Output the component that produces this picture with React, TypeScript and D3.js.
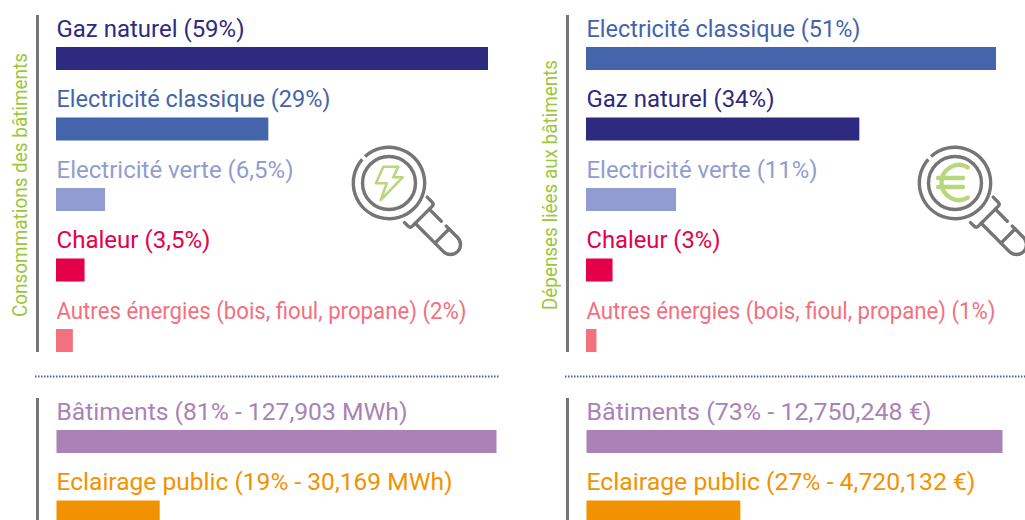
import React from "react";
import * as d3 from "d3";

const W = 1025, H = 520;
const FONT = "Roboto, 'Noto Sans', sans-serif";

const NAVY = "#2e2a7f", BLUE = "#4464ac", LIGHT = "#919dd1", RED = "#e5004a", PINK = "#f3707e", PURPLE = "#ab82b6", ORANGE = "#f39200";
const GREEN = "#9cc73c", ICON_GREEN = "#b9d77e", GREY = "#757575";

// Top panels
const consoLabels = ["Gaz naturel (59%)", "Electricité classique (29%)", "Electricité verte (6,5%)", "Chaleur (3,5%)", "Autres énergies (bois, fioul, propane) (2%)"];
const consoBars = [59, 29, 6.7, 3.9, 2.3];
const consoColors = [NAVY, BLUE, LIGHT, RED, PINK];
const depLabels = ["Electricité classique (51%)", "Gaz naturel (34%)", "Electricité verte (11%)", "Chaleur (3%)", "Autres énergies (bois, fioul, propane) (1%)"];
const depBars = [51, 34, 11.2, 3.3, 1.3];
const depColors = [BLUE, NAVY, LIGHT, RED, PINK];

// Bottom panels
const consoSplitLabels = ["Bâtiments (81% - 127,903 MWh)", "Eclairage public (19% - 30,169 MWh)"];
const consoSplit = [81, 19];
const depSplitLabels = ["Bâtiments (73% - 12,750,248 €)", "Eclairage public (27% - 4,720,132 €)"];
const depSplit = [73, 27];
const splitColors = [PURPLE, ORANGE];

// Layout only: rendered text widths, fitted to the reference's typeface
const consoFit = [188, 274, 237, 154, 410];
const depFit = [274, 188, 231, 134, 409];
const consoSplitFit = [351, 396];
const depSplitFit = [345, 389];

const BAR_H = 23, STEP = 70.5;

function Rows({ textX, x0, top, labels, values, colors, maxPx, fit }: any) {
  const x = d3.scaleLinear().domain([0, d3.max(values as number[])!]).range([0, maxPx]);
  const y = (i: number) => top + i * STEP;
  return (
    <g>
      {labels.map((l: string, i: number) => (
        <g key={l}>
          <text x={textX} y={y(i) - 10.3} fill={colors[i]} fontFamily={FONT} fontSize={24.5} textLength={fit[i]} lengthAdjust="spacingAndGlyphs">{l}</text>
          <rect x={x0} y={y(i)} width={x(values[i])} height={BAR_H} fill={colors[i]} />
        </g>
      ))}
    </g>
  );
}

const gapRing = d3.arc()({ innerRadius: 34, outerRadius: 37.4, startAngle: -Math.PI * 0.235, endAngle: Math.PI * 1.73 } as any)!;
const bolt = d3.line()([[-5.7, -16.3], [9.3, -16.3], [4.3, -5.7], [13.7, -5.7], [-8.3, 17], [-2.3, 0.3], [-13, 0.3]])! + "Z";
const euroArc = (() => { const p = d3.path(); p.arc(4, -0.5, 17.5, -Math.PI / 3, Math.PI / 3, true); return p.toString(); })();

function Loupe({ cx, cy, euro }: any) {
  const sw = 3.4;
  return (
    <g transform={`translate(${cx},${cy})`}>
      <path d={gapRing} fill={GREY} />
      <circle r={26.5} fill="none" stroke={GREY} strokeWidth={sw} />
      <g transform="rotate(45)" fill="none" stroke={GREY} strokeWidth={sw} strokeLinecap="round" strokeLinejoin="round">
        <path d="M37,-17 L44,-17 Q47,-17 47,-14 L47,14 Q47,17 44,17 L39,17" />
        <path d="M47,-10 L64,-10" />
        <path d="M71,-10 L87,-10 A10,10 0 0 1 87,10 L47,10" />
        <path d="M75,-10 L75,10" />
      </g>
      {euro ? (
        <g fill="none" stroke={ICON_GREEN} strokeWidth={4.4} strokeLinecap="round">
          <path d={euroArc} />
          <path d="M-17,-5 L8,-5" />
          <path d="M-17,4 L8,4" />
        </g>
      ) : (
        <path d={bolt} fill="none" stroke={ICON_GREEN} strokeWidth={2.6} strokeLinejoin="round" />
      )}
    </g>
  );
}

function Panel({ ox, title, titleLen, labels, values, colors, maxPx, fit, splitLabels, split, splitPx, splitFit, euro, ruleEnd, iconX }: any) {
  return (
    <g>
      <rect x={ox + 36} y={15} width={3} height={337} fill={GREY} />
      <rect x={ox + 36} y={398} width={3} height={122} fill={GREY} />
      <text transform={`translate(${ox + 27},185) rotate(-90)`} textAnchor="middle" fill={GREEN} fontFamily={FONT} fontSize={20.5} textLength={titleLen} lengthAdjust="spacingAndGlyphs">{title}</text>
      <Rows textX={ox + 56.5} x0={ox + 56} top={47} labels={labels} values={values} colors={colors} maxPx={maxPx} fit={fit} />
      <Rows textX={ox + 56.5} x0={ox + 56.5} top={430} labels={splitLabels} values={split} colors={splitColors} maxPx={splitPx} fit={splitFit} />
      <line x1={ox + 35} x2={ruleEnd} y1={376.5} y2={376.5} stroke={BLUE} strokeWidth={2} strokeDasharray="1.5 1.5" />
      <Loupe cx={iconX} cy={183} euro={euro} />
    </g>
  );
}

export default function App() {
  return (
    <svg width={W} height={H} viewBox={`0 0 ${W} ${H}`} style={{ position: "absolute", left: 0, top: 0, display: "block" }}>
      <rect width={W} height={H} fill="#fff" />
      <Panel ox={0} title="Consommations des bâtiments" titleLen={264} labels={consoLabels} values={consoBars} colors={consoColors} maxPx={432} fit={consoFit}
        splitLabels={consoSplitLabels} split={consoSplit} splitPx={440} splitFit={consoSplitFit} ruleEnd={499} iconX={389} />
      <Panel ox={530} title="Dépenses liées aux bâtiments" titleLen={250} labels={depLabels} values={depBars} colors={depColors} maxPx={410} fit={depFit}
        splitLabels={depSplitLabels} split={depSplit} splitPx={416} splitFit={depSplitFit} euro ruleEnd={1025} iconX={955} />
    </svg>
  );
}
